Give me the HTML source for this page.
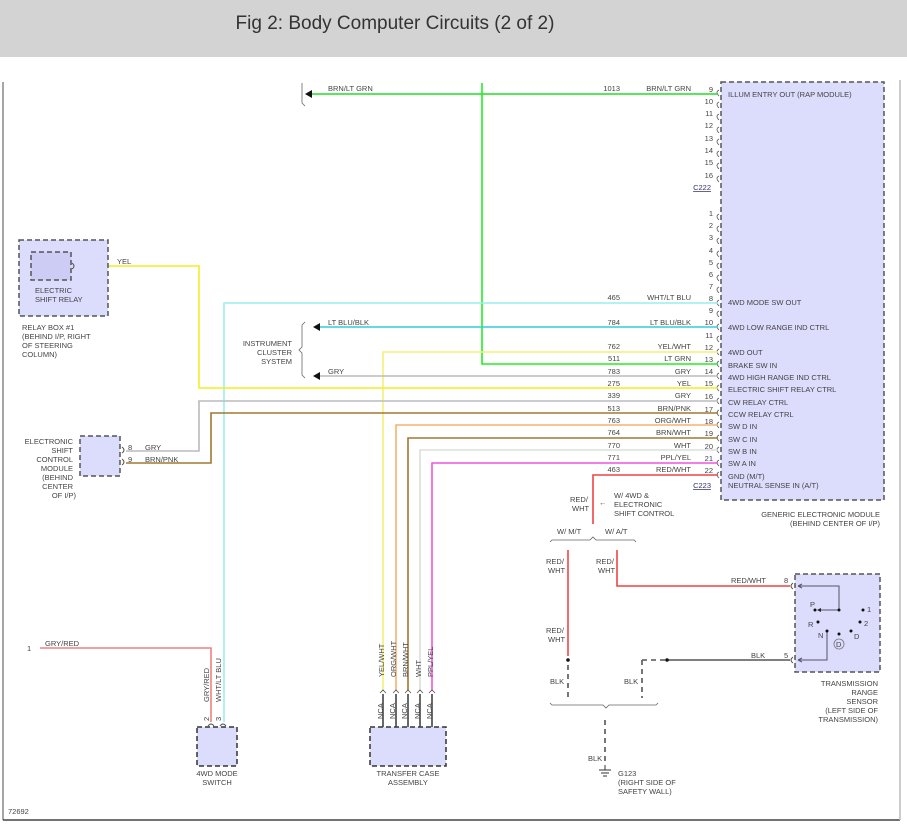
<!DOCTYPE html>
<html><head><meta charset="utf-8"><style>
html,body{margin:0;padding:0;background:#fff;}
svg{display:block;font-family:"Liberation Sans",Arial,sans-serif;}
.t{font-size:7.5px;fill:#444;}
</style></head><body>
<svg width="907" height="838" viewBox="0 0 907 838" xmlns="http://www.w3.org/2000/svg">
<rect x="0" y="0" width="907" height="57" fill="#d3d3d3"/>
<text x="395" y="29" font-size="19" fill="#333" text-anchor="middle" font-family="Liberation Sans Narrow, Liberation Sans, sans-serif">Fig 2: Body Computer Circuits (2 of 2)</text>
<!-- frame -->
<line x1="3" y1="82" x2="3" y2="820" stroke="#888" stroke-width="1.5"/>
<line x1="3" y1="820" x2="900" y2="820" stroke="#444" stroke-width="1.5"/>
<line x1="900" y1="80" x2="900" y2="820" stroke="#bbb" stroke-width="1.5"/>
<!-- GEM box -->
<rect x="721" y="82" width="163" height="418" fill="#dcdcfc" stroke="#555" stroke-width="1.5" stroke-dasharray="5,3"/>
<g class="t">
<text x="728" y="97">ILLUM ENTRY OUT (RAP MODULE)</text>
<text x="728" y="305">4WD MODE SW OUT</text>
<text x="728" y="330">4WD LOW RANGE IND CTRL</text>
<text x="728" y="355">4WD OUT</text>
<text x="728" y="368">BRAKE SW IN</text>
<text x="728" y="380">4WD HIGH RANGE IND CTRL</text>
<text x="728" y="392">ELECTRIC SHIFT RELAY CTRL</text>
<text x="728" y="405">CW RELAY CTRL</text>
<text x="728" y="417">CCW RELAY CTRL</text>
<text x="728" y="429">SW D IN</text>
<text x="728" y="442">SW C IN</text>
<text x="728" y="454">SW B IN</text>
<text x="728" y="466">SW A IN</text>
<text x="728" y="479">GND (M/T)</text>
<text x="728" y="488">NEUTRAL SENSE IN (A/T)</text>
<text x="880" y="517" text-anchor="end">GENERIC ELECTRONIC MODULE</text>
<text x="880" y="526" text-anchor="end">(BEHIND CENTER OF I/P)</text>
<text x="711" y="190" text-anchor="end" fill="#336" text-decoration="underline">C222</text>
<text x="711" y="488" text-anchor="end" fill="#336" text-decoration="underline">C223</text>
</g>
<!-- pins -->
<g class="t" text-anchor="end" font-size="7">
<text x="713" y="92">9</text><text x="713" y="104">10</text><text x="713" y="116">11</text><text x="713" y="128">12</text><text x="713" y="141">13</text><text x="713" y="153">14</text><text x="713" y="165">15</text><text x="713" y="178">16</text>
<text x="713" y="216">1</text><text x="713" y="228">2</text><text x="713" y="240">3</text><text x="713" y="253">4</text><text x="713" y="265">5</text><text x="713" y="277">6</text><text x="713" y="289">7</text><text x="713" y="301">8</text><text x="713" y="313">9</text><text x="713" y="325">10</text><text x="713" y="338">11</text><text x="713" y="350">12</text><text x="713" y="362">13</text><text x="713" y="374">14</text><text x="713" y="386">15</text><text x="713" y="399">16</text><text x="713" y="412">17</text><text x="713" y="424">18</text><text x="713" y="436">19</text><text x="713" y="449">20</text><text x="713" y="461">21</text><text x="713" y="473">22</text>
</g>
<g fill="none" stroke="#555" stroke-width="0.8">
<path d="M719,90 q-4,2 0,6 M719,102 q-4,2 0,6 M719,114 q-4,2 0,6 M719,127 q-4,2 0,6 M719,139 q-4,2 0,6 M719,151 q-4,2 0,6 M719,163 q-4,2 0,6 M719,176 q-4,2 0,6"/>
<path d="M719,214 q-4,2 0,6 M719,226 q-4,2 0,6 M719,238 q-4,2 0,6 M719,251 q-4,2 0,6 M719,263 q-4,2 0,6 M719,275 q-4,2 0,6 M719,287 q-4,2 0,6 M719,300 q-4,2 0,6 M719,311 q-4,2 0,6 M719,324 q-4,2 0,6 M719,336 q-4,2 0,6 M719,349 q-4,2 0,6 M719,361 q-4,2 0,6 M719,373 q-4,2 0,6 M719,385 q-4,2 0,6 M719,398 q-4,2 0,6 M719,410 q-4,2 0,6 M719,422 q-4,2 0,6 M719,435 q-4,2 0,6 M719,447 q-4,2 0,6 M719,460 q-4,2 0,6 M719,472 q-4,2 0,6"/>
</g>
<!-- wire numbers / colors -->
<g class="t" font-size="7" text-anchor="end">
<text x="620" y="91">1013</text><text x="691" y="91">BRN/LT GRN</text>
<text x="620" y="300">465</text><text x="691" y="300">WHT/LT BLU</text>
<text x="620" y="325">784</text><text x="691" y="325">LT BLU/BLK</text>
<text x="620" y="349">762</text><text x="691" y="349">YEL/WHT</text>
<text x="620" y="361">511</text><text x="691" y="361">LT GRN</text>
<text x="620" y="374">783</text><text x="691" y="374">GRY</text>
<text x="620" y="386">275</text><text x="691" y="386">YEL</text>
<text x="620" y="398">339</text><text x="691" y="398">GRY</text>
<text x="620" y="411">513</text><text x="691" y="411">BRN/PNK</text>
<text x="620" y="423">763</text><text x="691" y="423">ORG/WHT</text>
<text x="620" y="435">764</text><text x="691" y="435">BRN/WHT</text>
<text x="620" y="448">770</text><text x="691" y="448">WHT</text>
<text x="620" y="460">771</text><text x="691" y="460">PPL/YEL</text>
<text x="620" y="472">463</text><text x="691" y="472">RED/WHT</text>
</g>
<!-- wires -->
<g fill="none" stroke-width="1.6">
<path d="M718,94 H312" stroke="#22dd22"/>
<path d="M482,83 V364 H718" stroke="#22ee22"/>
<path d="M718,303 H224 V722" stroke="#99eeee"/>
<path d="M718,327 H316" stroke="#33ccdd"/>
<path d="M718,352 H383 V690" stroke="#f4f07a"/>
<path d="M718,376 H316" stroke="#bbbbbb"/>
<path d="M718,388 H199 V266 H76" stroke="#f2ee22"/>
<path d="M718,401 H199 V451 H126" stroke="#bbbbbb"/>
<path d="M718,413 H211 V463 H126" stroke="#a07830"/>
<path d="M718,425 H396 V690" stroke="#f5b070"/>
<path d="M718,438 H408 V690" stroke="#a07830"/>
<path d="M718,450 H420 V690" stroke="#dddddd"/>
<path d="M718,463 H432 V690" stroke="#ee55dd"/>
<path d="M718,475 H593 V524" stroke="#ee4444"/>
<path d="M40,648 H211 V722" stroke="#f08080"/>
</g>
<!-- arrows left -->
<path d="M305,94 l7,-4 v8 z M313,327 l7,-4 v8 z M313,376 l7,-4 v8 z" fill="#111"/>
<path d="M302,83 v20 l3,3 M305,322 l-3,3 v22 l-3,3 l3,3 v22 l3,3" fill="none" stroke="#666" stroke-width="0.8"/>
<g class="t" font-size="7">
<text x="328" y="91">BRN/LT GRN</text>
<text x="328" y="325">LT BLU/BLK</text>
<text x="328" y="374">GRY</text>
<text x="292" y="346" text-anchor="end">INSTRUMENT</text>
<text x="292" y="355" text-anchor="end">CLUSTER</text>
<text x="292" y="364" text-anchor="end">SYSTEM</text>
</g>
<!-- relay box -->
<rect x="19" y="240" width="89" height="76" fill="#dcdcfc" stroke="#555" stroke-width="1.5" stroke-dasharray="5,3"/>
<rect x="31" y="252" width="40" height="28" fill="#ccccf4" stroke="#555" stroke-width="1.5" stroke-dasharray="5,3"/>
<path d="M72,263 q4,3 0,6" fill="none" stroke="#555"/>
<g class="t" font-size="7">
<text x="117" y="264">YEL</text>
<text x="35" y="293">ELECTRIC</text><text x="35" y="302">SHIFT RELAY</text>
<text x="22" y="330">RELAY BOX #1</text><text x="22" y="339">(BEHIND I/P, RIGHT</text><text x="22" y="348">OF STEERING</text><text x="22" y="357">COLUMN)</text>
</g>
<!-- ESCM -->
<rect x="80" y="436" width="40" height="40" fill="#dcdcfc" stroke="#555" stroke-width="1.5" stroke-dasharray="5,3"/>
<path d="M122,447 q4,3 0,6 M122,459 q4,3 0,6" fill="none" stroke="#555"/>
<g class="t" font-size="7">
<text x="128" y="450">8</text><text x="145" y="450">GRY</text>
<text x="128" y="462">9</text><text x="145" y="462">BRN/PNK</text>
<g text-anchor="end"><text x="73" y="444">ELECTRONIC</text><text x="73" y="453">SHIFT</text><text x="73" y="462">CONTROL</text><text x="73" y="471">MODULE</text><text x="73" y="480">(BEHIND</text><text x="73" y="489">CENTER</text><text x="76" y="498">OF I/P)</text></g>
</g>
<!-- 4WD mode switch -->
<text x="27" y="651" class="t" font-size="7">1</text>
<text x="45" y="646" class="t" font-size="7">GRY/RED</text>
<rect x="197" y="727" width="40" height="39" fill="#dcdcfc" stroke="#333" stroke-width="1.5" stroke-dasharray="5,3"/>
<path d="M208,726 q3,-4 6,0 M220,726 q3,-4 6,0" fill="none" stroke="#555"/>
<g class="t" font-size="7">
<text transform="translate(209,702) rotate(-90)">GRY/RED</text>
<text transform="translate(221,702) rotate(-90)">WHT/LT BLU</text>
<text transform="translate(209,721) rotate(-90)">2</text>
<text transform="translate(221,721) rotate(-90)">3</text>
<text x="217" y="776" text-anchor="middle">4WD MODE</text><text x="217" y="785" text-anchor="middle">SWITCH</text>
</g>
<!-- transfer case -->
<rect x="370" y="727" width="76" height="39" fill="#dcdcfc" stroke="#333" stroke-width="1.5" stroke-dasharray="5,3"/>
<g stroke="#444" stroke-width="1.6"><path d="M383,694 V727 M396,694 V727 M408,694 V727 M420,694 V727 M432,694 V727"/></g>
<path d="M380,693 l3,-3 l3,3 M393,693 l3,-3 l3,3 M405,693 l3,-3 l3,3 M417,693 l3,-3 l3,3 M429,693 l3,-3 l3,3" fill="none" stroke="#555" stroke-width="0.8"/>
<g class="t" font-size="7">
<text transform="translate(384,677) rotate(-90)">YEL/WHT</text>
<text transform="translate(396,677) rotate(-90)">ORG/WHT</text>
<text transform="translate(408,677) rotate(-90)">BRN/WHT</text>
<text transform="translate(421,677) rotate(-90)">WHT</text>
<text transform="translate(433,677) rotate(-90)">PPL/YEL</text>
<text transform="translate(383,719) rotate(-90)">NCA</text>
<text transform="translate(395,719) rotate(-90)">NCA</text>
<text transform="translate(407,719) rotate(-90)">NCA</text>
<text transform="translate(420,719) rotate(-90)">NCA</text>
<text transform="translate(432,719) rotate(-90)">NCA</text>
<text x="408" y="776" text-anchor="middle">TRANSFER CASE</text><text x="408" y="785" text-anchor="middle">ASSEMBLY</text>
</g>
<!-- bottom right -->
<g class="t" font-size="7">
<text x="570" y="502">RED/</text><text x="572" y="511">WHT</text>
<text x="599" y="505">←</text>
<text x="614" y="498">W/ 4WD &amp;</text><text x="614" y="507">ELECTRONIC</text><text x="614" y="516">SHIFT CONTROL</text>
<text x="557" y="534">W/ M/T</text><text x="605" y="534">W/ A/T</text>
<text x="546" y="564">RED/</text><text x="548" y="573">WHT</text>
<text x="596" y="564">RED/</text><text x="598" y="573">WHT</text>
<text x="546" y="633">RED/</text><text x="548" y="642">WHT</text>
<text x="731" y="583">RED/WHT</text><text x="784" y="583">8</text>
<text x="751" y="658">BLK</text><text x="784" y="658">5</text>
<text x="550" y="684">BLK</text><text x="624" y="684">BLK</text>
<text x="588" y="761">BLK</text>
<text x="618" y="776">G123</text><text x="618" y="785">(RIGHT SIDE OF</text><text x="618" y="794">SAFETY WALL)</text>
<g text-anchor="end"><text x="878" y="686">TRANSMISSION</text><text x="878" y="695">RANGE</text><text x="878" y="704">SENSOR</text><text x="878" y="713">(LEFT SIDE OF</text><text x="878" y="722">TRANSMISSION)</text></g>
<text x="8" y="814">72692</text>
</g>
<path d="M550,542 l2,-2 H590 l3,-3 l3,3 H634 l2,2 M550,703 l2,2 H603 l3,3 l3,-3 H656 l2,-2" fill="none" stroke="#666" stroke-width="0.8"/>
<g fill="none" stroke-width="1.6">
<path d="M568,550 V656" stroke="#ee4444"/>
<path d="M617,550 V586 H790" stroke="#ee4444"/>
<path d="M667,660 H790" stroke="#555"/>
<path d="M568,665 V698 M642,660 V698 M642,660 H667 M605,720 V765" stroke="#555" stroke-dasharray="5,4"/>
</g>
<circle cx="568" cy="660" r="1.8" fill="#111"/><circle cx="667" cy="660" r="1.8" fill="#111"/>
<path d="M599,770 h12 M601,773 h8 M603,776 h4 M605,765 v5" stroke="#333" stroke-width="1"/>
<!-- TRS -->
<rect x="795" y="574" width="85" height="98" fill="#dcdcfc" stroke="#555" stroke-width="1.5" stroke-dasharray="5,3"/>
<path d="M793,583 q-4,3 0,6 M793,657 q-4,3 0,6" fill="none" stroke="#555"/>
<path d="M798,586 H839 V610 H818 M827,631 V660 H798 M798,586 l4,-2 M798,586 l4,2 M798,660 l4,-2 M798,660 l4,2" fill="none" stroke="#556" stroke-width="1"/>
<path d="M817,610 l4,-2 v4 z" fill="#222"/>
<g fill="#111"><circle cx="815" cy="610" r="1.5"/><circle cx="839" cy="610" r="1.5"/><circle cx="863" cy="610" r="1.5"/><circle cx="818" cy="622" r="1.5"/><circle cx="860" cy="622" r="1.5"/><circle cx="827" cy="631" r="1.5"/><circle cx="839" cy="634" r="1.5"/><circle cx="851" cy="631" r="1.5"/></g>
<circle cx="839" cy="644" r="5" fill="none" stroke="#777" stroke-width="0.8"/>
<g class="t" font-size="7"><text x="810" y="607">P</text><text x="867" y="612">1</text><text x="808" y="627">R</text><text x="864" y="626">2</text><text x="818" y="638">N</text><text x="854" y="639">D</text><text x="836" y="647">D</text></g>
</svg>
</body></html>
